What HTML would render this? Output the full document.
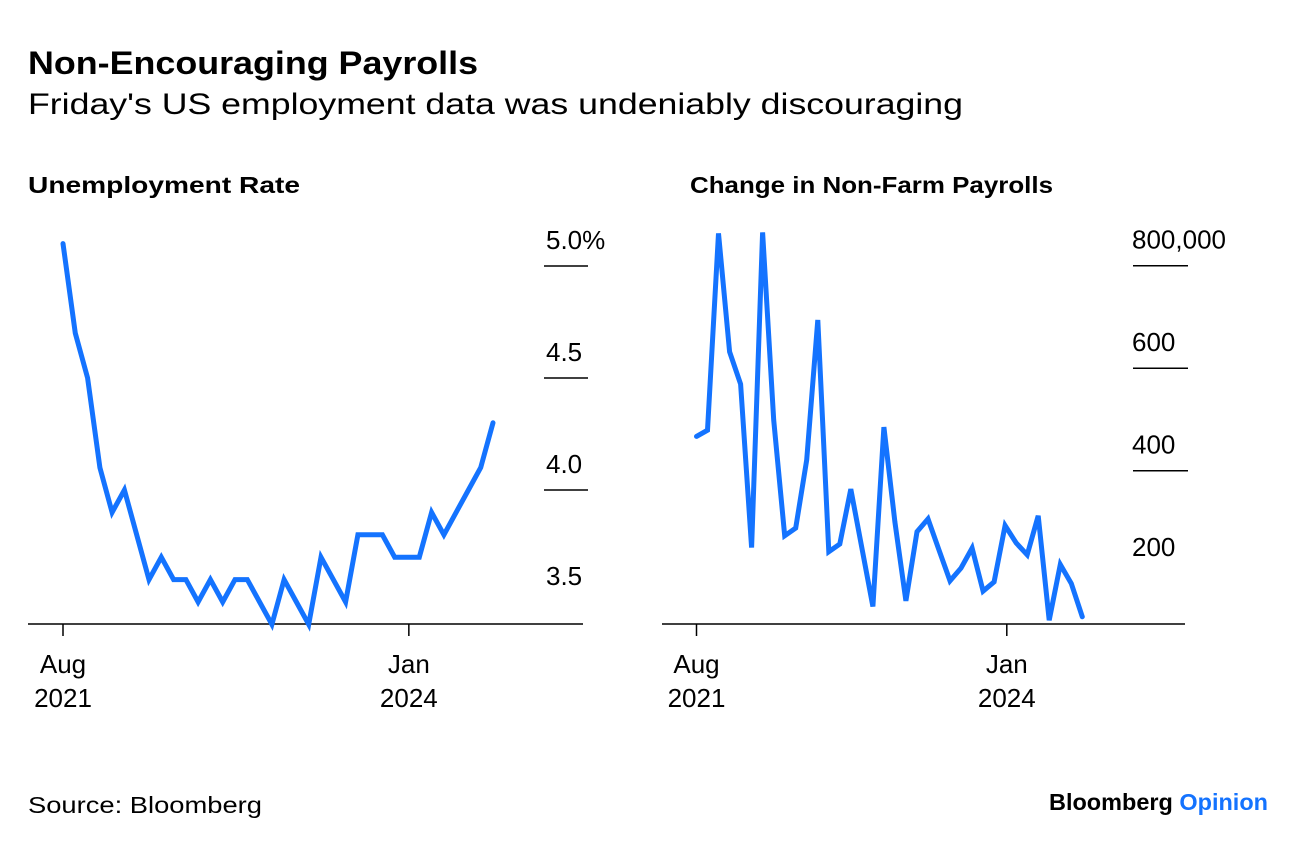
<!DOCTYPE html>
<html><head><meta charset="utf-8"><style>
body{margin:0;background:#fff;width:1296px;height:846px;overflow:hidden;font-family:"Liberation Sans",sans-serif;}
svg text{font-family:"Liberation Sans",sans-serif;fill:#000;}
</style></head><body>
<svg id="c" width="1296" height="846">
<text x="28" y="74" font-size="32" font-weight="bold" textLength="450" lengthAdjust="spacingAndGlyphs">Non-Encouraging Payrolls</text>
<text x="28" y="114" font-size="30" textLength="935" lengthAdjust="spacingAndGlyphs">Friday's US employment data was undeniably discouraging</text>
<text x="28" y="193" font-size="23" font-weight="bold" textLength="272" lengthAdjust="spacingAndGlyphs">Unemployment Rate</text>
<text x="690" y="193" font-size="23" font-weight="bold" textLength="363" lengthAdjust="spacingAndGlyphs">Change in Non-Farm Payrolls</text>
<text x="28" y="813" font-size="23" textLength="234" lengthAdjust="spacingAndGlyphs">Source: Bloomberg</text>
<text x="1049" y="810" font-size="23" font-weight="bold" textLength="219" lengthAdjust="spacingAndGlyphs">Bloomberg <tspan fill="#1473ff">Opinion</tspan></text>
<g id="left"></g>
<g id="right"></g>
</svg>
<script>
const months = 36;
const unempValues = [5.1,4.7,4.5,4.1,3.9,4.0,3.8,3.6,3.7,3.6,3.6,3.5,3.6,3.5,3.6,3.6,3.5,3.4,3.6,3.5,3.4,3.7,3.6,3.5,3.8,3.8,3.8,3.7,3.7,3.7,3.9,3.8,3.9,4.0,4.1,4.3];
const unempTicks = [5.0,4.5,4.0,3.5];
const unempTickLabels = ["5.0%","4.5","4.0","3.5"];
const payrollValues = [467,479,863,632,569,250,865,499,273,288,421,694,242,257,364,250,135,485,300,146,281,306,245,185,210,249,165,183,293,259,236,312,108,217,180,115];
const payrollTicks = [800,600,400,200];
const payrollTickLabels = ["800,000","600","400","200"];
const xTickIdx = [0,28.15];
const xTickLabels = [["Aug","2021"],["Jan","2024"]];
const NS="http://www.w3.org/2000/svg";
function mk(tag,attrs,parent){const e=document.createElementNS(NS,tag);for(const k in attrs)e.setAttribute(k,attrs[k]);parent.appendChild(e);return e;}

function panel(g,vals,ticks,labels,cfg){
  const xs=i=>cfg.x0+(cfg.x1-cfg.x0)*i/(months-1);
  const ys=v=>cfg.yTop+(cfg.vTop-v)*cfg.k;
  const ax=mk('line',{x1:cfg.axL,x2:cfg.axR,y1:624,y2:624,stroke:'#000','stroke-width':1.5},g);
  
  
  ticks.forEach((t,i)=>{
    const y=ys(t);
    if(i<ticks.length-1){
      const gl=mk('line',{x1:cfg.gx0,x2:cfg.gx1,y1:y,y2:y,stroke:'#000','stroke-width':1.5},g);
      
      
    }
    const tx=mk('text',{x:cfg.lx,y:y-17,'font-size':26},g);
    tx.textContent=labels[i];
    
    
  });
  xTickIdx.forEach((ti,j)=>{
    const x=xs(ti);
    const tk=mk('line',{x1:x,x2:x,y1:624,y2:636,stroke:'#000','stroke-width':1.5},g);
    
    
    xTickLabels[j].forEach((s,r)=>{
      const t=mk('text',{x:x,y:673+r*34,'font-size':26,'text-anchor':'middle'},g);
      t.textContent=s;
      
      
    });
  });
  const d=vals.map((v,i)=>(i?'L':'M')+xs(i).toFixed(1)+','+ys(v).toFixed(1)).join(' ');
  const p=mk('path',{d:d,fill:'none',stroke:'#1473ff','stroke-width':5,'stroke-linejoin':'miter','stroke-linecap':'round'},g);
  
  
}
panel(document.getElementById('left'),unempValues,unempTicks,unempTickLabels,
  {x0:63,x1:493,yTop:266,vTop:5.0,k:224,axL:28,axR:583,gx0:544,gx1:588,lx:546});
panel(document.getElementById('right'),payrollValues,payrollTicks,payrollTickLabels,
  {x0:696.5,x1:1082.3,yTop:265.7,vTop:800,k:0.5125,axL:662,axR:1185,gx0:1133,gx1:1188,lx:1132});
</script>
</body></html>
